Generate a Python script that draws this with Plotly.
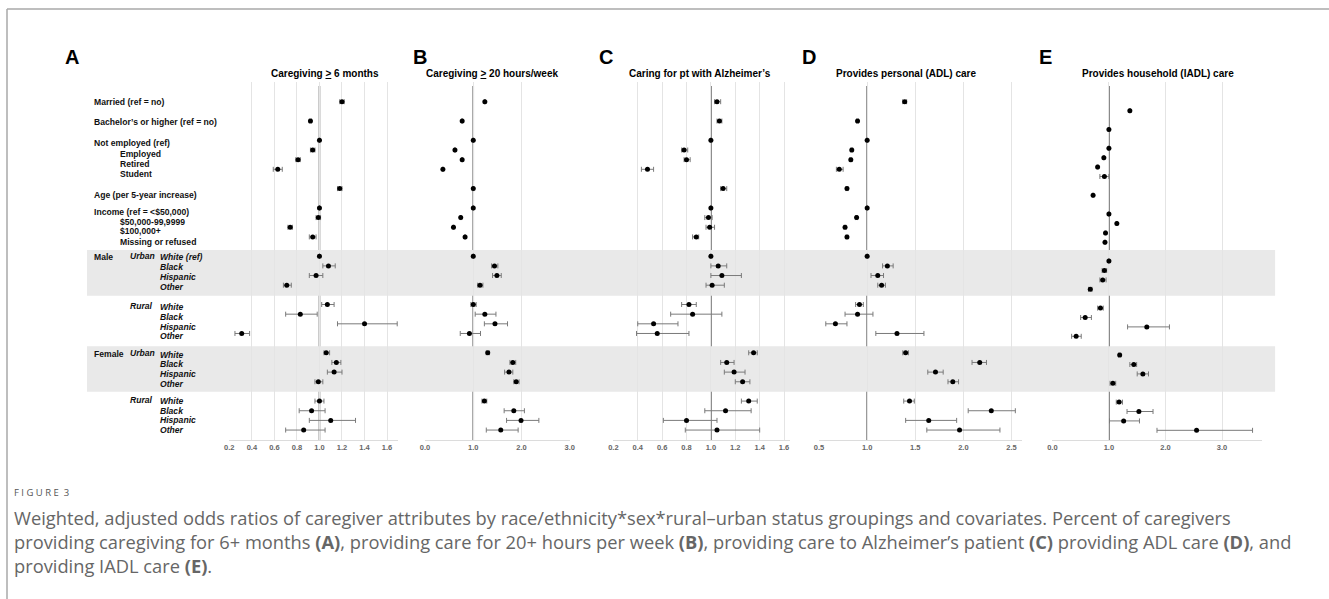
import plotly.graph_objects as go

W, H = 1329, 599

# ---------------- data ----------------
covariate_labels = ["Married (ref = no)", "Bachelor’s or higher (ref = no)", "Not employed (ref)",
                    "Employed", "Retired", "Student", "Age (per 5-year increase)",
                    "Income (ref = &lt;$50,000)", "$50,000-99,9999", "$100,000+", "Missing or refused"]
covariate_indent = [0, 0, 0, 1, 1, 1, 0, 0, 1, 1, 1]
sex_groups = ["Male", "Female"]
place_groups = ["Urban", "Rural"]
race_groups = ["White", "Black", "Hispanic", "Other"]

panel_letters = ["A", "B", "C", "D", "E"]
panel_titles = ["Caregiving <u>&gt;</u> 6 months", "Caregiving <u>&gt;</u> 20 hours/week",
                "Caring for pt with Alzheimer’s", "Provides personal (ADL) care",
                "Provides household (IADL) care"]

# order: 11 covariates, then Male-Urban (W,B,H,O), Male-Rural, Female-Urban, Female-Rural
or_A = [1.20, 0.92, 1.00, 0.94, 0.81, 0.63, 1.18, 1.00, 0.99, 0.74, 0.94,
        1.00, 1.08, 0.97, 0.71, 1.07, 0.83, 1.40, 0.31, 1.06, 1.15, 1.13, 0.99, 1.00, 0.93, 1.10, 0.86]
lo_A = [1.18, 0.91, 1.00, 0.92, 0.79, 0.59, 1.16, 1.00, 0.97, 0.72, 0.91,
        1.00, 1.03, 0.91, 0.68, 1.02, 0.70, 1.16, 0.25, 1.04, 1.11, 1.07, 0.96, 0.96, 0.82, 0.91, 0.70]
hi_A = [1.22, 0.93, 1.00, 0.96, 0.83, 0.67, 1.20, 1.00, 1.01, 0.76, 0.97,
        1.00, 1.14, 1.03, 0.75, 1.13, 0.98, 1.69, 0.38, 1.09, 1.19, 1.20, 1.03, 1.04, 1.05, 1.32, 1.05]

or_B = [1.24, 0.77, 1.00, 0.62, 0.77, 0.37, 1.00, 1.00, 0.74, 0.59, 0.83,
        1.00, 1.44, 1.49, 1.14, 1.00, 1.24, 1.45, 0.92, 1.30, 1.82, 1.74, 1.89, 1.23, 1.84, 1.99, 1.57]
lo_B = [1.23, 0.76, 1.00, 0.61, 0.76, 0.36, 0.99, 1.00, 0.73, 0.58, 0.82,
        1.00, 1.38, 1.40, 1.09, 0.95, 1.04, 1.23, 0.73, 1.27, 1.76, 1.65, 1.84, 1.18, 1.64, 1.69, 1.27]
hi_B = [1.25, 0.78, 1.00, 0.63, 0.78, 0.38, 1.01, 1.00, 0.75, 0.60, 0.84,
        1.00, 1.51, 1.58, 1.20, 1.06, 1.47, 1.71, 1.15, 1.33, 1.88, 1.82, 1.95, 1.28, 2.06, 2.36, 1.93]

or_C = [1.05, 1.07, 1.00, 0.78, 0.80, 0.48, 1.10, 1.00, 0.98, 0.99, 0.88,
        1.00, 1.06, 1.09, 1.01, 0.82, 0.85, 0.53, 0.56, 1.35, 1.13, 1.19, 1.26, 1.31, 1.12, 0.80, 1.05]
lo_C = [1.03, 1.05, 1.00, 0.76, 0.78, 0.43, 1.08, 1.00, 0.95, 0.96, 0.85,
        1.00, 1.00, 1.00, 0.96, 0.76, 0.67, 0.40, 0.39, 1.31, 1.08, 1.11, 1.20, 1.25, 0.95, 0.61, 0.79]
hi_C = [1.08, 1.09, 1.00, 0.81, 0.83, 0.53, 1.13, 1.00, 1.01, 1.03, 0.90,
        1.00, 1.13, 1.25, 1.11, 0.88, 1.09, 0.73, 0.82, 1.38, 1.19, 1.28, 1.32, 1.38, 1.33, 1.05, 1.40]

or_D = [1.39, 0.90, 1.00, 0.84, 0.83, 0.71, 0.79, 1.00, 0.89, 0.77, 0.79,
        1.00, 1.21, 1.11, 1.15, 0.92, 0.90, 0.67, 1.31, 1.40, 2.17, 1.71, 1.89, 1.44, 2.29, 1.64, 1.96]
lo_D = [1.37, 0.89, 1.00, 0.83, 0.82, 0.68, 0.78, 1.00, 0.88, 0.76, 0.78,
        1.00, 1.16, 1.04, 1.11, 0.88, 0.77, 0.57, 1.09, 1.37, 2.09, 1.63, 1.84, 1.38, 2.05, 1.40, 1.62]
hi_D = [1.41, 0.91, 1.00, 0.85, 0.84, 0.75, 0.80, 1.00, 0.90, 0.78, 0.80,
        1.00, 1.27, 1.17, 1.19, 0.96, 1.06, 0.79, 1.59, 1.43, 2.24, 1.79, 1.95, 1.49, 2.54, 1.93, 2.38]

or_E = [1.37, 1.00, 1.00, 0.91, 0.80, 0.92, 0.72, 1.00, 1.14, 0.94, 0.93,
        1.00, 0.92, 0.89, 0.67, 0.85, 0.58, 1.67, 0.42, 1.19, 1.44, 1.60, 1.07, 1.18, 1.53, 1.26, 2.55]
lo_E = [1.36, 0.99, 1.00, 0.90, 0.79, 0.84, 0.71, 1.00, 1.13, 0.93, 0.92,
        1.00, 0.88, 0.84, 0.64, 0.80, 0.50, 1.33, 0.34, 1.17, 1.37, 1.50, 1.02, 1.13, 1.32, 1.01, 1.85]
hi_E = [1.38, 1.01, 1.00, 0.92, 0.81, 1.00, 0.73, 1.00, 1.15, 0.95, 0.94,
        1.00, 0.96, 0.95, 0.70, 0.90, 0.69, 2.07, 0.51, 1.21, 1.49, 1.70, 1.12, 1.24, 1.78, 1.54, 3.54]

x_ranges = [[0.2, 1.7], [0.0, 3.0], [0.2, 1.65], [0.5, 2.607], [0.0, 3.7]]
x_dticks = [0.2, 1.0, 0.2, 0.5, 1.0]
x_tick0 = [0.2, 0.0, 0.2, 0.5, 0.0]

caption_lines = [
    "Weighted, adjusted odds ratios of caregiver attributes by race/ethnicity*sex*rural–urban status groupings and covariates. Percent of caregivers",
    "providing caregiving for 6+ months <b>(A)</b>, providing care for 20+ hours per week <b>(B)</b>, providing care to Alzheimer’s patient <b>(C)</b> providing ADL care <b>(D)</b>, and",
    "providing IADL care <b>(E)</b>.",
]

# ---------------- layout helpers ----------------
def px(x):
    # horizontal pixel -> paper fraction (small correction for the page rendering)
    return ((x - 5.0) / 0.9924) / W

def py(y):
    return 1 - y / H

# row positions (gaps between blocks)
gap_before = [0, 1, 1, 0, 0, 0, 1, 1, 0, 0, 0] + [1, 0, 0, 0] * 4
rows = []
r = -1
for g in gap_before:
    r += 1 + g
    rows.append(r)

# pixel geometry
x_dom_px = [(229.3, 398.3), (425.0, 569.7), (613.3, 790.1), (819.0, 1021.7), (1052.3, 1261.5)]
plot_top, plot_bot = 82.0, 440.0
y_ranges = [[35.03, -2.04]] * 4 + [[35.03, -3.05]]

ors = [or_A, or_B, or_C, or_D, or_E]
los = [lo_A, lo_B, lo_C, lo_D, lo_E]
his = [hi_A, hi_B, hi_C, hi_D, hi_E]

fig = go.Figure()
LABEL_FONT = "Arial, Liberation Sans, sans-serif"

for i in range(5):
    sfx = "" if i == 0 else str(i + 1)
    o, lo, hi = ors[i], los[i], his[i]
    fig.add_trace(go.Scatter(
        x=o, y=rows, mode="markers", xaxis="x" + sfx, yaxis="y" + sfx,
        marker=dict(color="black", size=5, symbol="circle"),
        error_x=dict(type="data", symmetric=False,
                     array=[h - v for h, v in zip(hi, o)],
                     arrayminus=[v - l for v, l in zip(o, lo)],
                     color="#7a7a7a", thickness=1, width=2.5),
        showlegend=False, hoverinfo="skip", cliponaxis=False))
    d0, d1 = x_dom_px[i]
    fig.layout["xaxis" + sfx] = dict(
        domain=[px(d0), px(d1)], range=x_ranges[i], anchor="y" + sfx,
        tick0=x_tick0[i], dtick=x_dticks[i], tickformat=".1f",
        showgrid=True, gridcolor="#e4e4e4", gridwidth=1, zeroline=False,
        showline=True, linecolor="#dcdcdc", linewidth=1, ticks="",
        tickfont=dict(family=LABEL_FONT, size=7.5, color="#666", weight="bold"),
        fixedrange=True)
    fig.layout["yaxis" + sfx] = dict(
        domain=[py(plot_bot), py(plot_top)], range=y_ranges[i], anchor="x" + sfx,
        showgrid=False, zeroline=False, showline=False, showticklabels=False,
        ticks="", fixedrange=True)
    # reference line at OR = 1
    fig.add_shape(type="line", xref="x" + sfx, yref="paper", x0=1, x1=1,
                  y0=py(plot_bot), y1=py(86), line=dict(color="#505050", width=1.5),
                  layer="between")

# shaded bands (urban groups)
for (t, b) in [(250.0, 295.7), (346.3, 391.7)]:
    fig.add_shape(type="rect", xref="paper", yref="paper", x0=px(87), x1=px(1275),
                  y0=py(b), y1=py(t), fillcolor="#e9e9e9", line=dict(width=0), layer="below")

# frame
fig.add_shape(type="line", xref="paper", yref="paper", x0=px(7), x1=px(1340), y0=py(9), y1=py(9),
              line=dict(color="#a8a8a8", width=1.5))
fig.add_shape(type="line", xref="paper", yref="paper", x0=px(7), x1=px(7), y0=py(9), y1=0,
              line=dict(color="#a8a8a8", width=1.5))

ann = []

def add_text(text, x, y, size, color="#111", family=LABEL_FONT, xanchor="left"):
    ann.append(dict(text=text, x=px(x), y=py(y), xref="paper", yref="paper",
                    xanchor=xanchor, yanchor="middle", showarrow=False, align="left",
                    font=dict(family=family, size=size, color=color)))

# panel letters and titles
letter_x = [63, 411, 597, 800, 1037]
title_cx = [324.7, 492.0, 700.0, 906.0, 1158.0]
for i in range(5):
    add_text("<b>" + panel_letters[i] + "</b>", letter_x[i], 57, 20, "black")
    add_text("<b>" + panel_titles[i] + "</b>", title_cx[i], 74, 10, "black", xanchor="center")

# row labels
cov_label_y = [101.7, 122.2, 143.2, 153.6, 163.6, 173.8, 194.5, 212.0, 221.6, 231.4, 241.8]
for lab, ind, yy in zip(covariate_labels, covariate_indent, cov_label_y):
    add_text("<b>" + lab + "</b>", 118 if ind else 92, yy, 8.6)

group_label_y = [[257.3, 267.3, 277.3, 287.3], [307.0, 316.8, 326.6, 336.4],
                 [354.7, 364.3, 374.1, 383.8], [401.0, 410.7, 420.3, 430.2]]
k = 0
for s in sex_groups:
    for j, p in enumerate(place_groups):
        ys = group_label_y[k]
        if j == 0:
            add_text("<b>" + s + "</b>", 92, ys[0] - 0.5, 8.6)
        add_text("<b><i>" + p + "</i></b>", 127.5, ys[0] - 1.5, 8.6)
        for q, rc in enumerate(race_groups):
            t = rc + (" (ref)" if (k == 0 and q == 0) else "")
            add_text("<b><i>" + t + "</i></b>", 158, ys[q], 8.6)
        k += 1

# caption
add_text("F I G U R E  3", 12, 492, 9.5, "#555", "Open Sans, sans-serif")
add_text("<br>".join(caption_lines), 12, 541, 18.3, "#666666", "Open Sans, sans-serif")

fig.update_layout(width=W, height=H, margin=dict(l=0, r=0, t=0, b=0),
                  paper_bgcolor="white", plot_bgcolor="rgba(0,0,0,0)",
                  annotations=ann, hovermode=False, showlegend=False)

fig.write_html("out.html", config={"displayModeBar": False},
               post_script="document.body.style.margin='0';")
